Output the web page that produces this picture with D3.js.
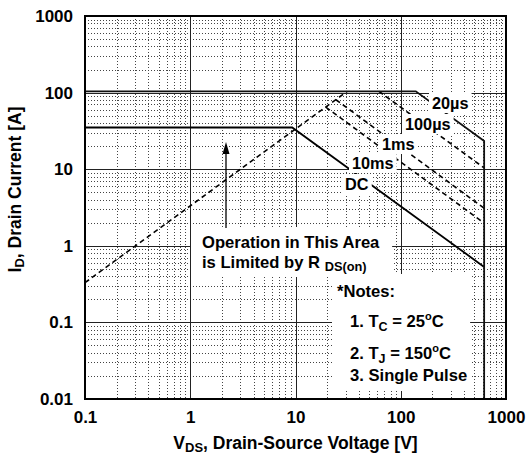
<!DOCTYPE html>
<html><head><meta charset="utf-8">
<script src="https://cdn.jsdelivr.net/npm/d3@7"></script>
<style>
body{margin:0;background:#fff;}
svg{display:block;}
text{font-family:"Liberation Sans",Arial,sans-serif;font-weight:bold;fill:#000;}
</style>
</head><body>
<svg id="c" width="529" height="455"></svg>
<script>
// ---- data ----
const xTickValues = [0.1, 1, 10, 100, 1000];
const xTickLabels = ["0.1", "1", "10", "100", "1000"];
const yTickValues = [0.01, 0.1, 1, 10, 100, 1000];
const yTickLabels = ["0.01", "0.1", "1", "10", "100", "1000"];
// [V_DS (V), I_D (A)]
const rdsOnLimit = [[0.1, 0.33], [31, 104]];
const curve20us  = [[0.1, 104], [139, 104], [620, 23.3], [620, 0.01]];
const curve100us = [[62, 104], [620, 10.4]];
const curve1ms   = [[24.2, 80.7], [620, 3.1]];
const curve10ms  = [[19.4, 64.5], [620, 1.98]];
const curveDC    = [[0.1, 35], [9.3, 35], [620, 0.53]];
const curveNames = ["20µs", "100µs", "1ms", "10ms", "DC"];

// ---- layout ----
const svg = d3.select("#c");
const L = 85, R = 506, T = 16, B = 399;
const x = d3.scaleLog().domain([0.1, 1000]).range([L, R]);
const y = d3.scaleLog().domain([0.01, 1000]).range([B, T]);
const px = v => Math.round(x(v)) + 0.5;
const py = v => Math.round(y(v)) + 0.5;

const grid = svg.append("g");
// minor grid
const minorX = [], minorY = [];
for (let d = 0.1; d < 1000; d *= 10) for (let m = 2; m <= 9; m++) minorX.push(+(d * m).toPrecision(3));
for (let d = 0.01; d < 1000; d *= 10) for (let m = 2; m <= 9; m++) minorY.push(+(d * m).toPrecision(3));
grid.selectAll(".mx").data(minorX).join("line")
  .attr("x1", px).attr("x2", px).attr("y1", T).attr("y2", B)
  .attr("stroke", "#444").attr("stroke-width", 1).attr("stroke-dasharray", "1,2");
grid.selectAll(".my").data(minorY).join("line")
  .attr("y1", py).attr("y2", py).attr("x1", L).attr("x2", R)
  .attr("stroke", "#444").attr("stroke-width", 1).attr("stroke-dasharray", "1,2");
// major grid
grid.selectAll(".Mx").data(xTickValues.slice(1, -1)).join("line")
  .attr("x1", px).attr("x2", px).attr("y1", T).attr("y2", B)
  .attr("stroke", "#222").attr("stroke-width", 1);
grid.selectAll(".My").data(yTickValues.slice(1, -1)).join("line")
  .attr("y1", py).attr("y2", py).attr("x1", L).attr("x2", R)
  .attr("stroke", "#222").attr("stroke-width", 1);

// curves
const line = d3.line().x(d => x(d[0])).y(d => y(d[1]));
const curves = svg.append("g").attr("fill", "none");
curves.append("path").attr("d", line(rdsOnLimit)).attr("stroke", "#000").attr("stroke-width", 1.6).attr("stroke-dasharray", "5,3.5");
curves.append("path").attr("d", line(curve100us)).attr("stroke", "#000").attr("stroke-width", 1.6).attr("stroke-dasharray", "5,3.5");
curves.append("path").attr("d", line(curve1ms)).attr("stroke", "#000").attr("stroke-width", 1.6).attr("stroke-dasharray", "5,3.5");
curves.append("path").attr("d", line(curve10ms)).attr("stroke", "#000").attr("stroke-width", 1.6).attr("stroke-dasharray", "5,3.5");
curves.append("path").attr("d", line(curveDC)).attr("stroke", "#000").attr("stroke-width", 1.8);
curves.append("path").attr("d", line(curve20us)).attr("stroke", "#111").attr("stroke-width", 1.8);

// labels with white boxes
const lab = svg.append("g");
function boxed(build, pad) {
  const g = lab.append("g");
  build(g);
  const bb = g.node().getBBox();
  g.insert("rect", ":first-child")
    .attr("x", bb.x - pad[0]).attr("y", bb.y - pad[1])
    .attr("width", bb.width + pad[0] + pad[2]).attr("height", bb.height + pad[1] + pad[3])
    .attr("fill", "#fff");
  return g;
}
const curveLabelPos = [[432, 109], [405, 130], [382, 150], [352, 169], [345, 190]];
curveNames.forEach((n, i) => {
  boxed(g => g.append("text").attr("x", curveLabelPos[i][0]).attr("y", curveLabelPos[i][1])
    .attr("font-size", 16.3).text(n), [3, 1, 3, 1]);
});

// Operation text
boxed(g => {
  g.append("text").attr("x", 202).attr("y", 248).attr("font-size", 16.6).text("Operation in This Area");
  const t = g.append("text").attr("x", 202).attr("y", 268).attr("font-size", 16.6);
  t.append("tspan").text("is Limited by R ");
  t.append("tspan").attr("font-size", 12.8).attr("dy", 3).text("DS(on)");
}, [11, 6, 12, 3]);

// arrow
const ax = 226;
svg.append("line").attr("x1", ax).attr("x2", ax).attr("y1", 228).attr("y2", 150)
  .attr("stroke", "#000").attr("stroke-width", 1.3);
svg.append("path").attr("d", `M${ax},142 L${ax - 3.5},154 L${ax + 3.5},154 Z`).attr("fill", "#000");

// Notes
boxed(g => {
  g.append("text").attr("x", 337).attr("y", 297).attr("font-size", 16.6).text("*Notes:");
  const t1 = g.append("text").attr("x", 350).attr("y", 327).attr("font-size", 16.6);
  t1.append("tspan").text("1. T");
  t1.append("tspan").attr("font-size", 12.5).attr("dy", 4).text("C");
  t1.append("tspan").attr("dy", -4).text(" = 25");
  t1.append("tspan").attr("font-size", 11).attr("dy", -7).text("o");
  t1.append("tspan").attr("dy", 7).text("C");
  const t2 = g.append("text").attr("x", 350).attr("y", 359).attr("font-size", 16.6);
  t2.append("tspan").text("2. T");
  t2.append("tspan").attr("font-size", 12.5).attr("dy", 4).text("J");
  t2.append("tspan").attr("dy", -4).text(" = 150");
  t2.append("tspan").attr("font-size", 11).attr("dy", -7).text("o");
  t2.append("tspan").attr("dy", 7).text("C");
  g.append("text").attr("x", 350).attr("y", 381).attr("font-size", 16.6).text("3. Single Pulse");
}, [5, 8, 3, 6]);

// frame
svg.append("rect").attr("x", L).attr("y", T).attr("width", R - L).attr("height", B - T)
  .attr("fill", "none").attr("stroke", "#000").attr("stroke-width", 2);

// axes (tick labels only)
const xAxis = d3.axisBottom(x).tickValues(xTickValues).tickFormat((d, i) => xTickLabels[i]).tickSize(0).tickPadding(12);
const gx = svg.append("g").attr("transform", `translate(0,${B})`).call(xAxis);
gx.select(".domain").remove();
gx.selectAll("text").attr("font-size", 17).attr("fill", "#000");
const yAxis = d3.axisLeft(y).tickValues(yTickValues).tickFormat((d, i) => yTickLabels[i]).tickSize(0).tickPadding(12);
const gy = svg.append("g").attr("transform", `translate(${L},0)`).call(yAxis);
gy.select(".domain").remove();
gy.selectAll("text").attr("font-size", 17).attr("fill", "#000");
gx.attr("font-family", null).attr("font-size", null);
gy.attr("font-family", null).attr("font-size", null);

// titles
const xt = svg.append("text").attr("x", (L + R) / 2).attr("y", 449).attr("text-anchor", "middle").attr("font-size", 17.5);
xt.append("tspan").text("V");
xt.append("tspan").attr("font-size", 13).attr("dy", 3).text("DS");
xt.append("tspan").attr("dy", -3).text(", Drain-Source Voltage [V]");
const yt = svg.append("text").attr("transform", `translate(21,${(T + B) / 2 - 18}) rotate(-90)`).attr("text-anchor", "middle").attr("font-size", 17.5);
yt.append("tspan").text("I");
yt.append("tspan").attr("font-size", 13).attr("dy", 3).text("D");
yt.append("tspan").attr("dy", -3).text(", Drain Current [A]");
</script>
</body></html>
